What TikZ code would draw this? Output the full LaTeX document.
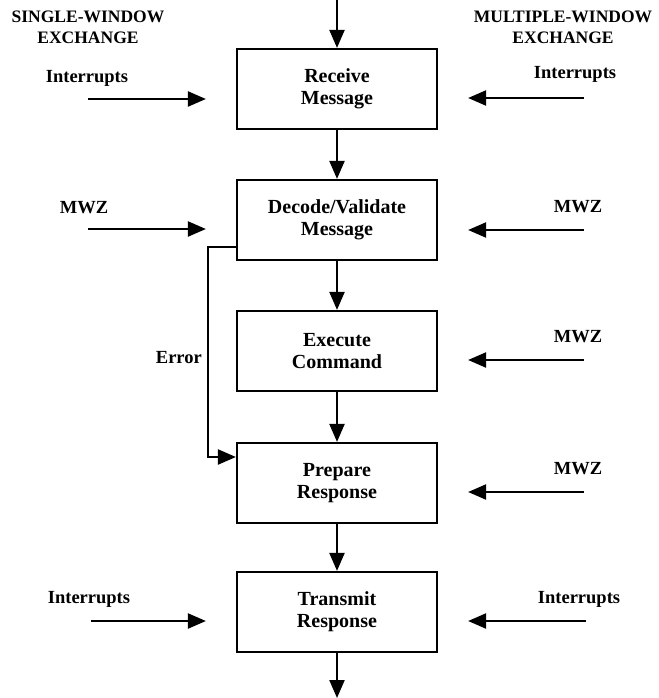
\documentclass[tikz,border=0pt]{standalone}
\usepackage{fontspec}
\setmainfont{Liberation Serif}
\usetikzlibrary{arrows.meta}
\tikzset{
  box/.style={draw, line width=2.2pt, minimum width=200pt, minimum height=80pt,
    align=center, inner sep=0pt, font=\bfseries\fontsize{20}{22}\selectfont},
  arr/.style={line width=2.2pt, -{Triangle[length=18pt,width=15pt]}},
  lbl/.style={font=\bfseries\fontsize{18.5}{21}\selectfont, align=center, inner sep=0pt},
  head/.style={font=\bfseries\fontsize{17.5}{21}\selectfont, align=center, inner sep=0pt},
}
\begin{document}
\begin{tikzpicture}[x=1pt,y=-1pt]
\useasboundingbox[fill=white] (0,0) rectangle (658,698);
% boxes
\node[box] (b1) at (337,89)  {Receive\\Message};
\node[box] (b2) at (337,220) {Decode/Validate\\Message};
\node[box] (b3) at (337,351) {Execute\\Command};
\node[box] (b4) at (337,483) {Prepare\\Response};
\node[box] (b5) at (337,612) {Transmit\\Response};
% headings
\node[head] (hl) at (88,27) {SINGLE-WINDOW\\EXCHANGE};
\node[head] (hr) at (563,27) {MULTIPLE-WINDOW\\EXCHANGE};
% main flow
\coordinate (top) at (337,0);
\coordinate (bot) at (337,698);
\draw[arr] (top) -- (b1.north);
\draw[arr] (b1) -- (b2);
\draw[arr] (b2) -- (b3);
\draw[arr] (b3) -- (b4);
\draw[arr] (b4) -- (b5);
\draw[arr] (b5.south) -- (bot);
% error path
\coordinate (e1) at (208,247);
\coordinate (e2) at (208,457);
\draw[arr] (b2.west |- e1) -- (e1) -- (e2) -- (b4.west |- e2);
\node[lbl, anchor=east] (err) at (202,358) {Error};
% left inputs
\coordinate (l1) at (88,99);
\coordinate (l2) at (88,229);
\coordinate (l5) at (91,621);
\draw[arr, shorten >=30pt] (l1) -- (b1.west |- l1);
\draw[arr, shorten >=30pt] (l2) -- (b2.west |- l2);
\draw[arr, shorten >=30pt] (l5) -- (b5.west |- l5);
\node[lbl] (li1) at (87,78) {Interrupts};
\node[lbl] (lm2) at (84,208) {MWZ};
\node[lbl] (li5) at (89,599) {Interrupts};
% right inputs
\coordinate (r1) at (584,98);
\coordinate (r2) at (584,230);
\coordinate (r3) at (584,360);
\coordinate (r4) at (584,492);
\coordinate (r5) at (586,621);
\draw[arr, shorten >=30pt] (r1) -- (b1.east |- r1);
\draw[arr, shorten >=30pt] (r2) -- (b2.east |- r2);
\draw[arr, shorten >=30pt] (r3) -- (b3.east |- r3);
\draw[arr, shorten >=30pt] (r4) -- (b4.east |- r4);
\draw[arr, shorten >=30pt] (r5) -- (b5.east |- r5);
\node[lbl] (ri1) at (575,74) {Interrupts};
\node[lbl] (rm2) at (578,207) {MWZ};
\node[lbl] (rm3) at (578,337) {MWZ};
\node[lbl] (rm4) at (578,469) {MWZ};
\node[lbl] (ri5) at (579,599) {Interrupts};
\end{tikzpicture}
\end{document}
